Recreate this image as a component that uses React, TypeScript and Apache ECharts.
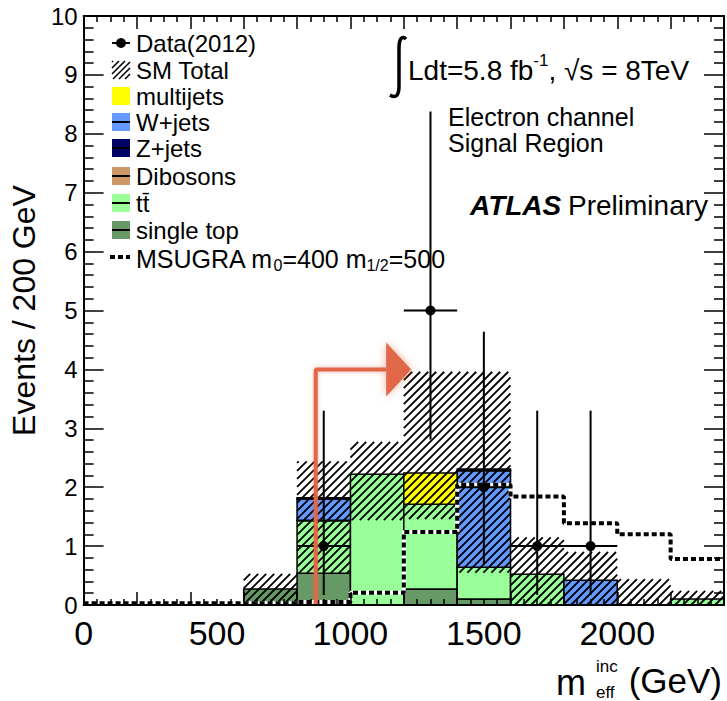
import React, { useEffect, useRef } from "react";
import * as echarts from "echarts";

// ---------------- data ----------------
const binLow = [0, 200, 400, 600, 800, 1000, 1200, 1400, 1600, 1800, 2000, 2200];
const binWidth = 200;
const singleTop = [0, 0, 0, 0.27, 0.54, 0, 0.27, 0.1, 0, 0, 0, 0];
const ttbar = [0, 0, 0, 0, 0.89, 2.22, 1.44, 0.54, 0.52, 0, 0, 0.1];
const dibosons = [0, 0, 0, 0, 0.01, 0, 0, 0, 0, 0, 0, 0];
const wjets = [0, 0, 0, 0, 0.36, 0, 0, 1.64, 0, 0.42, 0, 0];
const zjets = [0, 0, 0, 0, 0.02, 0, 0, 0.03, 0, 0, 0, 0];
const multijets = [0, 0, 0, 0, 0, 0, 0.53, 0, 0, 0, 0, 0];
const smBandLow = [0, 0, 0, 0, 0.54, 1.44, 1.46, 0.55, 0, 0, 0, 0];
const smBandHigh = [0, 0, 0, 0.53, 2.44, 2.77, 3.96, 3.96, 1.15, 0.9, 0.44, 0.24];
const signal = [0.03, 0.03, 0.03, 0.03, 0.05, 0.21, 1.24, 2.04, 1.84, 1.39, 1.2, 0.78];
const dataX = [900, 1300, 1500, 1700, 1900];
const dataY = [1, 5, 2, 1, 1];
const dataErrLow = [0.17, 2.81, 0.68, 0.17, 0.17];
const dataErrHigh = [3.3, 8.38, 4.64, 3.3, 3.3];
const cutArrow = [[870, 0], [870, 4], [1134, 4]];
const xTickLabels = [0, 500, 1000, 1500, 2000];

const FONT = "'Liberation Sans', Arial, Helvetica, sans-serif";
const ARROW = "#E0674A";

const stackDefs = [
  { name: "single top", values: singleTop, color: "#669966" },
  { name: "ttbar", values: ttbar, color: "#99FF99" },
  { name: "Dibosons", values: dibosons, color: "#CC9966" },
  { name: "W+jets", values: wjets, color: "#6699FF" },
  { name: "Z+jets", values: zjets, color: "#000066" },
  { name: "multijets", values: multijets, color: "#FFFF00" },
];

function hatchLines(left: number, top: number, right: number, bottom: number, s = 8, w = 1.8) {
  const out: any[] = [];
  const cMin = Math.ceil((left + top) / s) * s;
  for (let c = cMin; c <= right + bottom; c += s) {
    const xs = Math.max(left, c - bottom);
    const xe = Math.min(right, c - top);
    if (xe <= xs) continue;
    out.push({
      type: "line",
      shape: { x1: xs, y1: c - xs, x2: xe, y2: c - xe },
      style: { stroke: "#000", lineWidth: w },
      silent: true,
    });
  }
  return out;
}

function buildOption() {
  const cum = binLow.map(() => 0);
  const stackSeries = stackDefs.map((def) => {
    const data = binLow.map((lo, i) => {
      const y0 = cum[i];
      const y1 = y0 + def.values[i];
      cum[i] = y1;
      return [lo, lo + binWidth, y0, y1];
    });
    return {
      type: "custom",
      name: def.name,
      coordinateSystem: "cartesian2d",
      encode: { x: [0, 1], y: [2, 3] },
      z: 2,
      silent: true,
      data,
      renderItem: (params: any, api: any) => {
        const x0 = api.value(0), x1 = api.value(1), y0 = api.value(2), y1 = api.value(3);
        if (y1 - y0 <= 1e-6) return null;
        const a = api.coord([x0, y1]);
        const b = api.coord([x1, y0]);
        return {
          type: "rect",
          shape: { x: a[0], y: a[1], width: b[0] - a[0], height: b[1] - a[1] },
          style: { fill: def.color, stroke: "#000", lineWidth: 1.5 },
        };
      },
    };
  });

  const bandSeries = {
    type: "custom",
    name: "SM Total",
    coordinateSystem: "cartesian2d",
    encode: { x: [0, 1], y: [2, 3] },
    z: 3,
    silent: true,
    data: binLow.map((lo, i) => [lo, lo + binWidth, smBandLow[i], smBandHigh[i]]),
    renderItem: (params: any, api: any) => {
      const x0 = api.value(0), x1 = api.value(1), lo = api.value(2), hi = api.value(3);
      if (hi - lo <= 1e-6) return null;
      const a = api.coord([x0, hi]);
      const b = api.coord([x1, lo]);
      return { type: "group", children: hatchLines(a[0], a[1], b[0], b[1]) };
    },
  };

  const signalPts: number[][] = [];
  binLow.forEach((lo, i) => {
    signalPts.push([lo, signal[i]], [lo + binWidth, signal[i]]);
  });

  const signalWhite = {
    type: "line",
    data: signalPts,
    showSymbol: false,
    symbol: "none",
    z: 4,
    silent: true,
    lineStyle: { color: "#fff", width: 4 },
  };
  const signalBlack = {
    type: "line",
    name: "MSUGRA",
    data: signalPts,
    showSymbol: false,
    symbol: "none",
    z: 4,
    silent: true,
    lineStyle: { color: "#000", width: 4, type: [5, 3] },
  };

  const dataSeries = {
    type: "custom",
    name: "Data(2012)",
    coordinateSystem: "cartesian2d",
    encode: { x: 0, y: 1 },
    z: 6,
    silent: true,
    data: dataX.map((x, i) => [x, dataY[i], dataErrLow[i], dataErrHigh[i], x - binWidth / 2, x + binWidth / 2]),
    renderItem: (params: any, api: any) => {
      const p = api.coord([api.value(0), api.value(1)]);
      const lo = api.coord([api.value(0), api.value(2)]);
      const hi = api.coord([api.value(0), api.value(3)]);
      const l = api.coord([api.value(4), api.value(1)]);
      const r = api.coord([api.value(5), api.value(1)]);
      return {
        type: "group",
        children: [
          { type: "line", shape: { x1: lo[0], y1: lo[1], x2: hi[0], y2: hi[1] }, style: { stroke: "#000", lineWidth: 2 } },
          { type: "line", shape: { x1: l[0], y1: l[1], x2: r[0], y2: r[1] }, style: { stroke: "#000", lineWidth: 2 } },
          { type: "circle", shape: { cx: p[0], cy: p[1], r: 5 }, style: { fill: "#000" } },
        ],
      };
    },
  };

  const arrowLine = {
    type: "line",
    data: cutArrow,
    showSymbol: false,
    symbol: "none",
    z: 7,
    silent: true,
    lineStyle: { color: ARROW, width: 4, shadowBlur: 5, shadowColor: "rgba(224,103,74,0.45)" },
  };
  const arrowHead = {
    type: "custom",
    coordinateSystem: "cartesian2d",
    encode: { x: 0, y: 1 },
    z: 7,
    silent: true,
    data: [cutArrow[cutArrow.length - 1]],
    renderItem: (params: any, api: any) => {
      const p = api.coord([api.value(0), api.value(1)]);
      return {
        type: "polygon",
        shape: { points: [[p[0], p[1] - 27], [p[0] + 25, p[1]], [p[0], p[1] + 27]] },
        style: { fill: ARROW, shadowBlur: 8, shadowColor: "rgba(224,103,74,0.55)" },
      };
    },
  };

  // ------------- legend & annotations (graphic) -------------
  const legendX = 112;
  const legendTextX = 136;
  const rowY = [43, 70, 96, 122, 148, 176, 203, 230, 257];
  const textStyle = (size: number, extra: any = {}) => ({
    fontSize: size,
    fontFamily: FONT,
    fill: "#000",
    ...extra,
  });
  const g: any[] = [];
  const legendLabels = ["Data(2012)", "SM Total", "multijets", "W+jets", "Z+jets", "Dibosons", "tt\u0304", "single top"];
  legendLabels.forEach((t, i) => {
    g.push({
      type: "text",
      x: legendTextX,
      y: rowY[i],
      style: textStyle(24, { text: t, verticalAlign: "middle" }),
      silent: true,
    });
  });
  g.push({
    type: "text",
    x: legendTextX,
    y: rowY[8] + 2,
    style: {
      text: "{a|MSUGRA m}{s|0}{a|=400 m}{s|1/2}{a|=500}",
      verticalAlign: "middle",
      rich: {
        a: { fontSize: 25, fontFamily: FONT, color: "#000", lineHeight: 28 },
        s: { fontSize: 16, fontFamily: FONT, color: "#000", lineHeight: 14, verticalAlign: "bottom" },
      },
    },
    silent: true,
  });
  // data marker
  g.push({ type: "line", shape: { x1: legendX, y1: rowY[0], x2: legendX + 18, y2: rowY[0] }, style: { stroke: "#000", lineWidth: 2 }, silent: true });
  g.push({ type: "circle", shape: { cx: legendX + 9, cy: rowY[0], r: 5 }, style: { fill: "#000" }, silent: true });
  // SM total hatched
  g.push({ type: "group", silent: true, children: hatchLines(legendX, rowY[1] - 9, legendX + 18, rowY[1] + 9, 6, 1.6) });
  // colored boxes
  const legendBoxes = [
    { row: 2, color: "#FFFF00", line: false },
    { row: 3, color: "#6699FF", line: true },
    { row: 4, color: "#000066", line: true },
    { row: 5, color: "#CC9966", line: true },
    { row: 6, color: "#99FF99", line: true },
    { row: 7, color: "#669966", line: true },
  ];
  legendBoxes.forEach((b) => {
    g.push({ type: "rect", shape: { x: legendX, y: rowY[b.row] - 9, width: 18, height: 18 }, style: { fill: b.color }, silent: true });
    if (b.line)
      g.push({ type: "line", shape: { x1: legendX, y1: rowY[b.row], x2: legendX + 18, y2: rowY[b.row] }, style: { stroke: "#000", lineWidth: 2 }, silent: true });
  });
  g.push({ type: "line", shape: { x1: legendX - 2, y1: rowY[8], x2: legendX + 18, y2: rowY[8] }, style: { stroke: "#000", lineWidth: 4, lineDash: [5, 3] }, silent: true });

  // integral sign
  g.push({
    type: "integral",
    x: 388,
    y: 36,
    silent: true,
    style: { fill: "none", stroke: "#000", lineWidth: 3.5 },
  });
  g.push({
    type: "text",
    x: 408,
    y: 70,
    silent: true,
    style: {
      text: "{a|Ldt=5.8 fb}{p|-1}{a|, \u221As = 8TeV}",
      verticalAlign: "middle",
      rich: {
        a: { fontSize: 28, fontFamily: FONT, color: "#000", lineHeight: 36 },
        p: { fontSize: 17, fontFamily: FONT, color: "#000", lineHeight: 18, verticalAlign: "top" },
      },
    },
  });
  g.push({ type: "text", x: 448, y: 117, silent: true, style: textStyle(25, { text: "Electron channel", verticalAlign: "middle" }) });
  g.push({ type: "text", x: 448, y: 143, silent: true, style: textStyle(25, { text: "Signal Region", verticalAlign: "middle" }) });
  g.push({ type: "text", x: 470, y: 205, silent: true, style: textStyle(28, { text: "ATLAS", fontWeight: "bold", fontStyle: "italic", verticalAlign: "middle" }) });
  g.push({ type: "text", x: 568, y: 205, silent: true, style: textStyle(28, { text: "Preliminary", verticalAlign: "middle" }) });
  // x axis title
  g.push({ type: "text", x: 556, y: 682, silent: true, style: textStyle(36, { text: "m", verticalAlign: "middle" }) });
  g.push({ type: "text", x: 596, y: 666, silent: true, style: textStyle(17, { text: "inc", verticalAlign: "middle" }) });
  g.push({ type: "text", x: 596, y: 692, silent: true, style: textStyle(17, { text: "eff", verticalAlign: "middle" }) });
  g.push({ type: "text", x: 722, y: 680, silent: true, style: textStyle(35, { text: "(GeV)", align: "right", verticalAlign: "middle" }) });

  const tickStyle = { color: "#000", width: 1.5 };
  const axisLine = { show: true, onZero: false, lineStyle: { color: "#000", width: 2 } };
  const xBase = {
    type: "value",
    min: 0,
    max: 2400,
    interval: 200,
    z: 10,
    axisLine,
    axisTick: { show: true, inside: true, length: 13, lineStyle: tickStyle },
    minorTick: { show: true, splitNumber: 4, length: 6, lineStyle: tickStyle },
    splitLine: { show: false },
    minorSplitLine: { show: false },
  };
  const yBase = {
    type: "value",
    min: 0,
    max: 10,
    interval: 1,
    z: 10,
    axisLine,
    axisTick: { show: true, inside: true, length: 20, lineStyle: tickStyle },
    minorTick: { show: true, splitNumber: 5, length: 10, lineStyle: tickStyle },
    splitLine: { show: false },
    minorSplitLine: { show: false },
  };

  return {
    animation: false,
    backgroundColor: "#fff",
    grid: { left: 83, right: 3, top: 16, bottom: 96, containLabel: false },
    xAxis: [
      {
        ...xBase,
        position: "bottom",
        axisLabel: {
          customValues: xTickLabels,
          formatter: (v: number) => String(v),
          fontSize: 34,
          fontFamily: FONT,
          color: "#000",
          margin: 11,
        },
      },
      { ...xBase, position: "top", axisLabel: { show: false } },
    ],
    yAxis: [
      {
        ...yBase,
        position: "left",
        name: "Events / 200 GeV",
        nameLocation: "middle",
        nameGap: 40,
        nameTextStyle: { fontSize: 32, fontFamily: FONT, color: "#000" },
        axisLabel: { fontSize: 24, fontFamily: FONT, color: "#000", margin: 6 },
      },
      { ...yBase, position: "right", axisLabel: { show: false } },
    ],
    series: [...stackSeries, bandSeries, signalWhite, signalBlack, dataSeries, arrowLine, arrowHead],
    graphic: g,
  };
}

let registered = false;
function registerShapes() {
  if (registered) return;
  registered = true;
  const d = "M 18 3 C 14 -1, 11 3, 11 12 L 11 50 C 11 59, 8 63, 2 59";
  echarts.graphic.registerShape("integral", echarts.graphic.extendPath(d, {}) as any);
}

export default function App() {
  const ref = useRef<HTMLDivElement>(null);
  useEffect(() => {
    if (!ref.current) return;
    registerShapes();
    const chart = echarts.init(ref.current, undefined, { renderer: "svg" });
    chart.setOption(buildOption() as any);
    return () => chart.dispose();
  }, []);
  return <div ref={ref} style={{ position: "absolute", left: 0, top: 0, width: 727, height: 701 }} />;
}
